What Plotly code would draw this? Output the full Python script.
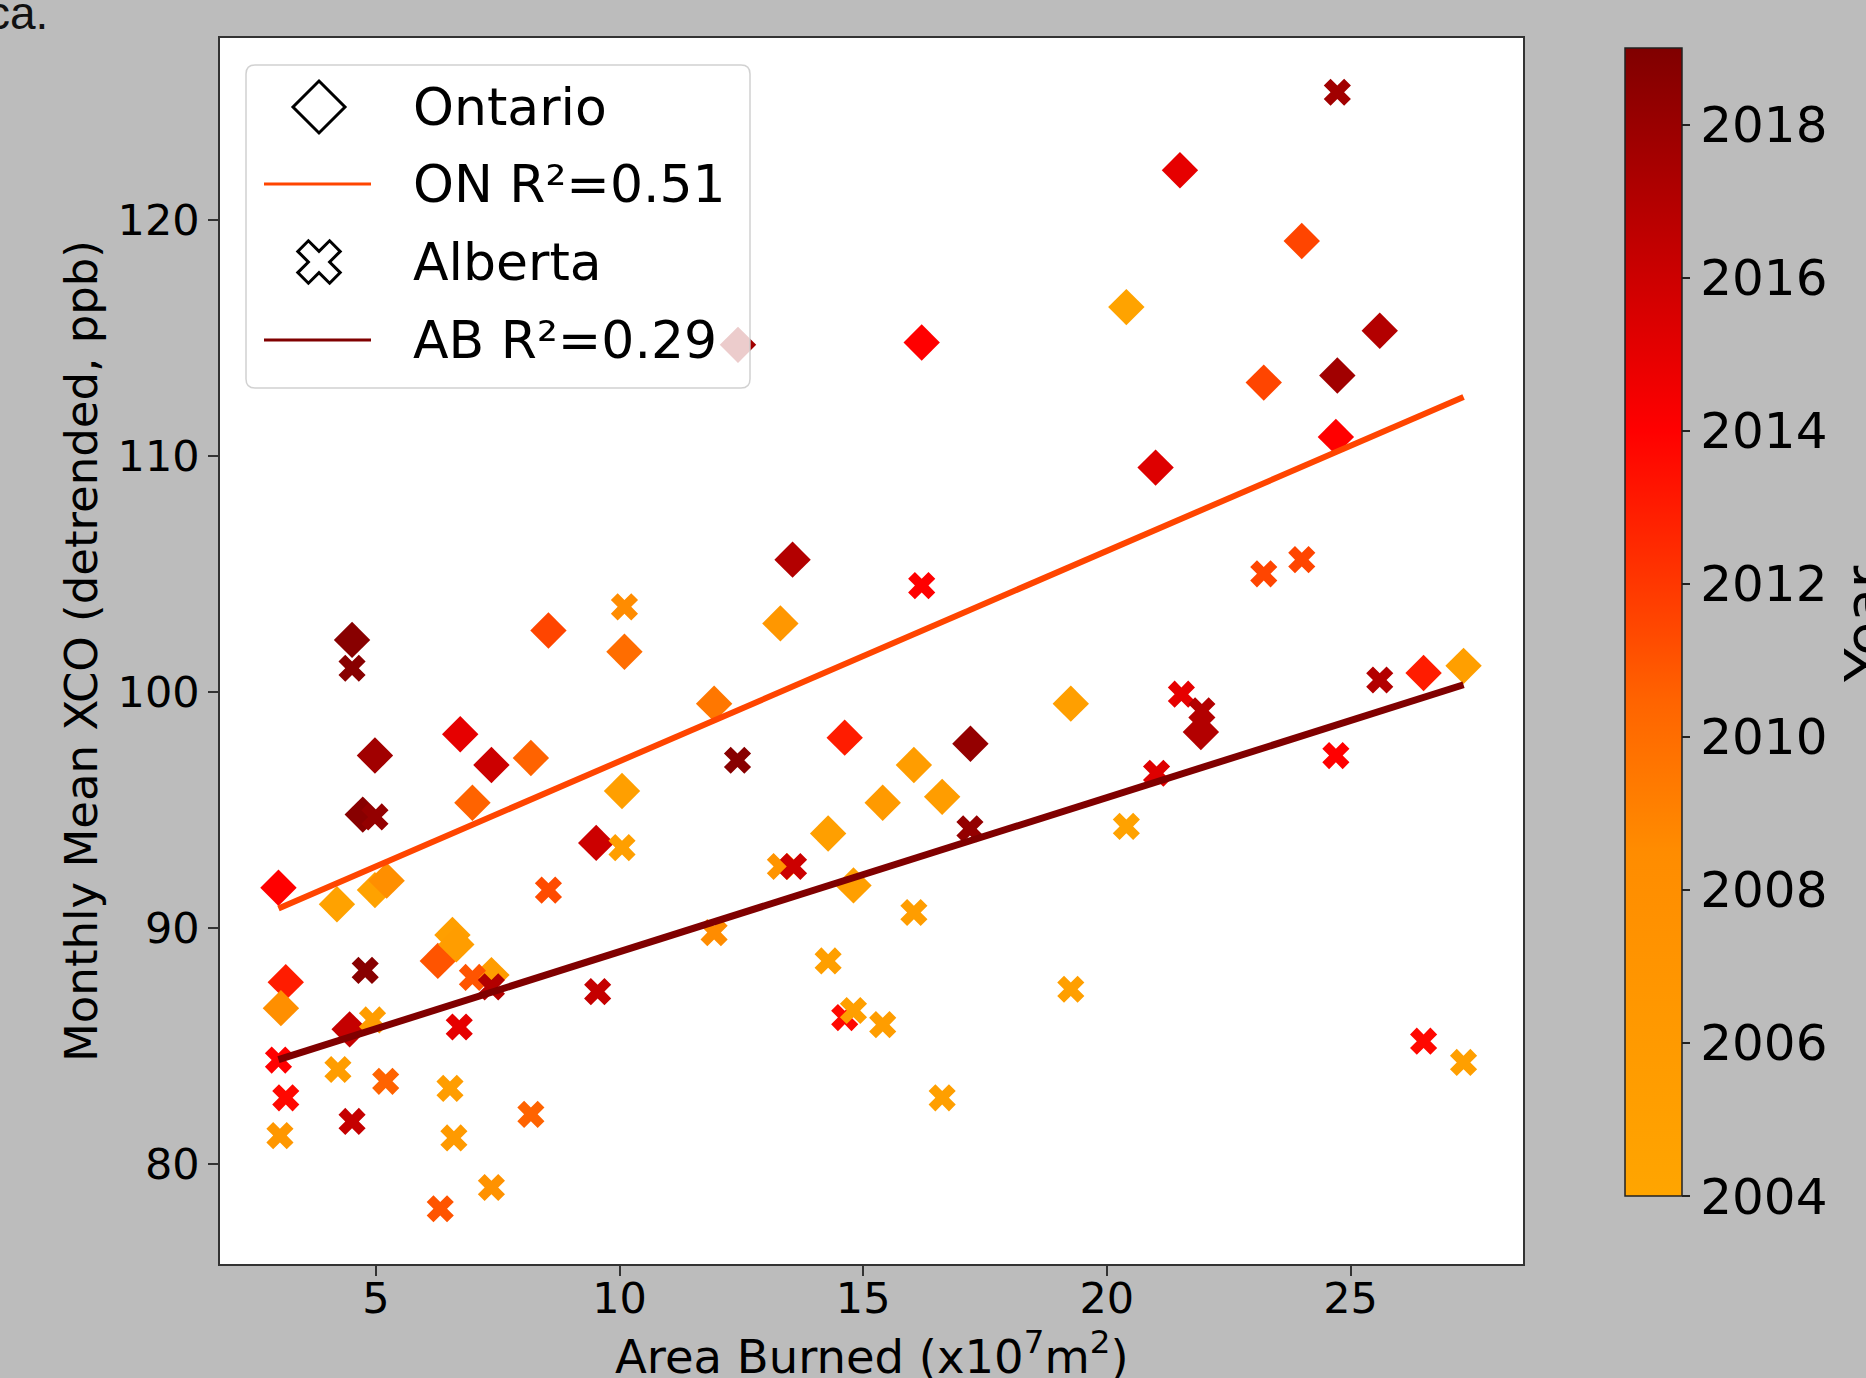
import numpy as np
import plotly.graph_objects as go

# ---------------- data ----------------
on_x = [3.0, 3.15, 3.05, 4.2, 4.98, 5.22, 4.51, 4.98, 4.73, 4.46,
        6.73, 7.37, 6.98, 8.18, 8.54, 6.27, 6.57, 6.65, 7.37, 9.52,
        10.1, 10.05, 11.94, 12.43, 13.3, 13.55, 14.28, 14.62, 14.8, 15.4,
        16.04, 16.2, 16.62, 17.2, 19.26, 20.4, 21.0, 21.5, 21.93, 23.22,
        24.0, 24.7, 24.73, 25.6, 26.5, 27.32]
on_y = [91.7, 87.7, 86.6, 91.0, 91.6, 92.0, 102.2, 97.3, 94.8, 85.7,
        98.2, 96.9, 95.3, 97.2, 102.6, 88.6, 89.7, 89.3, 88.0, 93.6,
        101.7, 95.8, 99.5, 114.7, 102.9, 105.6, 94.0, 98.06, 91.8, 95.3,
        96.9, 114.8, 95.55, 97.8, 99.5, 116.3, 109.5, 122.1, 98.3, 113.1,
        119.1, 110.8, 113.4, 115.3, 100.8, 101.1]
on_year = [2014, 2013, 2008, 2004.5, 2004.5, 2008, 2018.7, 2017.7, 2018.7, 2016.3,
           2015, 2016, 2010.5, 2010.5, 2011.5, 2011, 2005, 2005.5, 2005.5, 2016,
           2010, 2005, 2009.5, 2017.7, 2006.5, 2017, 2005, 2013, 2005, 2006,
           2005.5, 2014, 2005.5, 2018.2, 2005, 2004.3, 2015.3, 2015, 2017, 2011.5,
           2011.5, 2014, 2017.7, 2017, 2013, 2005]

ab_x = [3.0, 3.15, 3.03, 4.22, 4.51, 4.51, 4.78, 4.98, 4.93, 5.2,
        6.52, 6.6, 6.32, 7.37, 6.71, 6.98, 7.37, 8.18, 8.54, 9.55,
        10.05, 10.1, 11.94, 12.42, 13.3, 13.57, 14.28, 14.62, 14.8, 15.4,
        16.04, 16.62, 16.2, 17.19, 19.26, 20.4, 21.02, 21.53, 21.95, 23.22,
        24.0, 24.7, 24.73, 25.6, 26.5, 27.32]
ab_y = [84.4, 82.8, 81.2, 84.0, 81.8, 101.0, 88.2, 94.7, 86.1, 83.5,
        83.2, 81.1, 78.1, 79.0, 85.8, 87.9, 87.5, 82.1, 91.6, 87.3,
        93.4, 103.6, 89.8, 97.1, 92.6, 92.6, 88.6, 86.2, 86.5, 85.9,
        90.65, 82.8, 104.5, 94.2, 87.4, 94.3, 96.55, 99.9, 99.2, 105.0,
        105.6, 97.3, 125.4, 100.5, 85.2, 84.3]
ab_year = [2014, 2013.7, 2006.5, 2005.5, 2016.3, 2018.7, 2018.7, 2018.2, 2005.5, 2010.5,
           2005.5, 2006, 2011, 2007.5, 2015, 2011, 2017, 2010.5, 2011.3, 2016.3,
           2005, 2008.5, 2008.5, 2018.7, 2007, 2016, 2005, 2013.7, 2005, 2005.5,
           2005.5, 2005, 2014, 2018.2, 2005, 2004.5, 2015.3, 2015, 2017, 2011.5,
           2011.5, 2014, 2017.7, 2017, 2013.7, 2005]

# regression lines (slope, intercept)
on_fit = (0.891, 88.15)
ab_fit = (0.653, 82.46)
on_label = "ON R²=0.51"
ab_label = "AB R²=0.29"

x_ticks = [5, 10, 15, 20, 25]
y_ticks = [80, 90, 100, 110, 120]
year_ticks = [2004, 2006, 2008, 2010, 2012, 2014, 2016, 2018]
year_range = (2004, 2019)

# ---------------- layout geometry ----------------
W, H = 1866, 1378
L, R, T, B = 220, 1523, 38, 1264
FONT = "DejaVu Sans"


def fx(px):
    return (px - L) / (R - L)


def fy(py):
    return (B - py) / (B - T)


colorscale = [
    [0.0, "#FFA500"],
    [0.3, "#FF8C00"],
    [0.43, "#FF6400"],
    [0.5, "#FF4500"],
    [0.667, "#FF0000"],
    [1.0, "#800000"],
]

fig = go.Figure()

fig.add_trace(go.Scatter(
    x=on_x, y=on_y, mode="markers", showlegend=False,
    marker=dict(symbol="diamond", size=28, color=on_year, coloraxis="coloraxis",
                line=dict(width=0)),
))
fig.add_trace(go.Scatter(
    x=ab_x, y=ab_y, mode="markers", showlegend=False,
    marker=dict(symbol="x", size=24, color=ab_year, coloraxis="coloraxis",
                line=dict(width=0)),
))

for xs, fit, col, lw in [(on_x, on_fit, "#FF4500", 6), (ab_x, ab_fit, "#800000", 7)]:
    lx = np.array([min(xs), max(xs)])
    ly = fit[0] * lx + fit[1]
    fig.add_trace(go.Scatter(x=lx, y=ly, mode="lines", showlegend=False,
                             line=dict(color=col, width=lw)))

shapes = []
# legend box (rounded)
bx0, bx1, by0, by1 = 246, 750, 65, 388
cx, cy = (bx0 + bx1) / 2, (by0 + by1) / 2
hw, hh, rr = (bx1 - bx0) / 2, (by1 - by0) / 2, 9
box_path = (f"M {-hw + rr},{-hh} L {hw - rr},{-hh} Q {hw},{-hh} {hw},{-hh + rr} "
            f"L {hw},{hh - rr} Q {hw},{hh} {hw - rr},{hh} L {-hw + rr},{hh} "
            f"Q {-hw},{hh} {-hw},{hh - rr} L {-hw},{-hh + rr} Q {-hw},{-hh} {-hw + rr},{-hh} Z")
shapes.append(dict(type="path", xref="paper", yref="paper", xsizemode="pixel", ysizemode="pixel",
                   xanchor=fx(cx), yanchor=fy(cy), path=box_path,
                   fillcolor="rgba(255,255,255,0.8)", line=dict(color="rgba(204,204,204,0.9)", width=1.5),
                   layer="above"))

rows = [107, 184, 262, 340]
sym_x = 319
# legend lines
for ry, col in [(rows[1], "#FF4500"), (rows[3], "#800000")]:
    shapes.append(dict(type="line", xref="paper", yref="paper", x0=fx(264), x1=fx(371),
                       y0=fy(ry), y1=fy(ry), line=dict(color=col, width=3), layer="above"))
# open diamond
d = 26
shapes.append(dict(type="path", xref="paper", yref="paper", xsizemode="pixel", ysizemode="pixel",
                   xanchor=fx(sym_x), yanchor=fy(rows[0]),
                   path=f"M 0,{d} L {d},0 L 0,{-d} L {-d},0 Z",
                   fillcolor="white", line=dict(color="black", width=3), layer="above"))
# open filled-X (matplotlib style)
S = 45.0
base = [(-1, -3), (1, -3), (1, -1), (3, -1), (3, 1), (1, 1), (1, 3), (-1, 3), (-1, 1), (-3, 1), (-3, -1), (-1, -1)]
pts = [((a - b) / np.sqrt(2) * S / 6, (a + b) / np.sqrt(2) * S / 6) for a, b in base]
xpath = "M " + " L ".join(f"{p[0]:.2f},{p[1]:.2f}" for p in pts) + " Z"
shapes.append(dict(type="path", xref="paper", yref="paper", xsizemode="pixel", ysizemode="pixel",
                   xanchor=fx(sym_x), yanchor=fy(rows[2]), path=xpath,
                   fillcolor="white", line=dict(color="black", width=3), layer="above"))

annotations = []
for ry, txt in zip(rows, ["Ontario", on_label, "Alberta", ab_label]):
    annotations.append(dict(text=txt, xref="paper", yref="paper", x=fx(411), y=fy(ry),
                            xanchor="left", yanchor="middle", showarrow=False,
                            font=dict(family=FONT, size=52, color="black")))
annotations.append(dict(text="Monthly Mean XCO (detrended, ppb)", xref="paper", yref="paper",
                        x=fx(81), y=0.5, textangle=-90, showarrow=False,
                        xanchor="center", yanchor="middle",
                        font=dict(family=FONT, size=45, color="black")))
annotations.append(dict(text="Area Burned (x10<sup>7</sup>m<sup>2</sup>)", xref="paper", yref="paper",
                        x=0.5, y=fy(1353), showarrow=False, xanchor="center", yanchor="middle",
                        font=dict(family=FONT, size=46.5, color="black")))
annotations.append(dict(text="Year", xref="paper", yref="paper", x=fx(1865), y=fy(624),
                        textangle=-90, showarrow=False, xanchor="center", yanchor="middle",
                        font=dict(family=FONT, size=55, color="black")))
annotations.append(dict(text="ca.", xref="paper", yref="paper", x=fx(-15), y=fy(41),
                        showarrow=False, xanchor="left", yanchor="bottom",
                        font=dict(family="Liberation Sans", size=46, color="#111")))

axis_common = dict(showline=True, mirror=True, linecolor="#333", linewidth=1.5,
                   ticks="outside", ticklen=10, tickwidth=1.5, tickcolor="#333",
                   showgrid=False, zeroline=False,
                   tickfont=dict(family=FONT, size=43, color="black"))

fig.update_layout(
    width=W, height=H,
    margin=dict(l=L, r=W - R, t=T, b=H - B, autoexpand=False),
    paper_bgcolor="#bcbcbc", plot_bgcolor="white",
    font=dict(family=FONT, color="black"),
    xaxis=dict(range=[1.80, 28.54], tickvals=x_ticks, ticklabelstandoff=-14, **axis_common),
    yaxis=dict(range=[75.76, 127.7], tickvals=y_ticks, **axis_common),
    coloraxis=dict(
        colorscale=colorscale, cmin=year_range[0], cmax=year_range[1],
        colorbar=dict(
            x=fx(1625), xanchor="left", xref="paper",
            y=fy(622), yanchor="middle", yref="paper",
            len=1148, lenmode="pixels", thickness=57, thicknessmode="pixels",
            xpad=0, ypad=0, outlinecolor="#222", outlinewidth=1.5,
            ticks="outside", ticklen=8, tickwidth=1.5, tickcolor="#222",
            tickvals=year_ticks, tickfont=dict(family=FONT, size=50, color="black"),
        ),
    ),
    shapes=shapes,
    annotations=annotations,
    showlegend=False,
)

fig.write_html("out.html", config={"displayModeBar": False},
               post_script="document.body.style.margin='0';document.body.style.overflow='hidden';")
